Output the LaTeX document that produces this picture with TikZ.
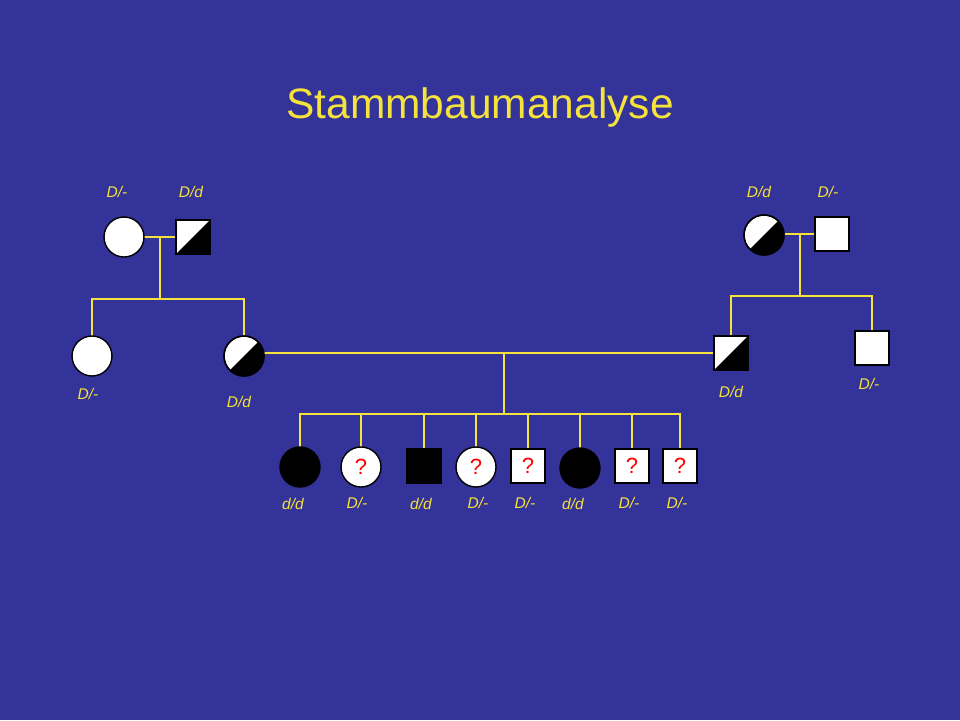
\documentclass[tikz,border=0pt]{standalone}
\usepackage{fontspec}
\setmainfont{Liberation Sans}
\begin{document}
\begin{tikzpicture}[x=1pt,y=-1pt,
  line/.style={draw=yel,line width=1.6pt},
  lbl/.style={text=yel,font=\itshape\fontsize{15.5}{15.5}\selectfont},
  q/.style={text=red,font=\fontsize{22}{22}\selectfont}]
\definecolor{bg}{HTML}{333399}
\definecolor{yel}{HTML}{F5E23A}
\fill[bg] (0,0) rectangle (960,720);
\useasboundingbox (0,0) rectangle (960,720);
\node[text=yel,font=\fontsize{42.5}{42.5}\selectfont] (title) at (480,108) {Stammbaumanalyse};
% helpers
\newcommand{\pcirc}[4]{% name x y fill
  \node[circle,draw=black,line width=1.4pt,fill=#4,minimum size=40pt,inner sep=0pt] (#1) at (#2,#3) {};}
\newcommand{\psq}[4]{\node[rectangle,draw=black,line width=1.4pt,fill=#4,minimum size=34pt,inner sep=0pt] (#1) at (#2,#3) {};}
\newcommand{\halfc}[3]{\node[circle,draw=black,line width=1.4pt,fill=white,minimum size=40pt,inner sep=0pt] (#1) at (#2,#3) {};
  \begin{scope}\clip (#2,#3) circle (20);\fill[black] (#2-30,#3+30) -- (#2+30,#3-30) -- (#2+30,#3+30) -- cycle;\end{scope}
  \draw[black,line width=1.4pt] (#2,#3) circle (20);}
\newcommand{\halfs}[3]{\node[rectangle,draw=black,line width=1.4pt,fill=white,minimum size=34pt,inner sep=0pt] (#1) at (#2,#3) {};
  \fill[black] (#2-17,#3+17) -- (#2+17,#3-17) -- (#2+17,#3+17) -- cycle;
  \draw[black,line width=1.4pt] (#2-17,#3-17) rectangle (#2+17,#3+17);}
% lines first
\coordinate (m1) at (160,237); \coordinate (s1) at (160,299);
\coordinate (m2) at (504,353); \coordinate (s2) at (504,414);
\coordinate (m3) at (800,234); \coordinate (s3) at (800,296);
\draw[line] (124,237) -- (193,237);
\draw[line] (m1) -- (s1);
\draw[line] (92,336) |- (s1) -| (244,336);
\draw[line] (244,353) -- (731,353);
\draw[line] (m2) -- (s2);
\draw[line] (300,447) |- (s2) -| (680,449);
\foreach \x in {361,424,476,528,580,632} \draw[line] (\x,414) -- (\x,449);
\draw[line] (764,234) -- (832,234);
\draw[line] (m3) -- (s3);
\draw[line] (731,336) |- (s3) -| (872,331);
% gen 1
\pcirc{a}{124}{237}{white}
\halfs{b}{193}{237}
\halfc{c}{764}{235}
\psq{d}{832}{234}{white}
% gen 2
\pcirc{e}{92}{356}{white}
\halfc{f}{244}{356}
\halfs{g}{731}{353}
\psq{h}{872}{348}{white}
% gen 3
\pcirc{k1}{300}{467}{black}
\pcirc{k2}{361}{467}{white}\node[q] at (k2) {?};
\psq{k3}{424}{466}{black}
\pcirc{k4}{476}{467}{white}\node[q] at (k4) {?};
\psq{k5}{528}{466}{white}\node[q] at (k5) {?};
\pcirc{k6}{580}{468}{black}
\psq{k7}{632}{466}{white}\node[q] at (k7) {?};
\psq{k8}{680}{466}{white}\node[q] at (k8) {?};
% labels
\node[lbl] (la) at (117,192) {D/-};
\node[lbl] (lb) at (191,192) {D/d};
\node[lbl] (lc) at (759,192) {D/d};
\node[lbl] (ld) at (828,192) {D/-};
\node[lbl] (le) at (88,394) {D/-};
\node[lbl] (lf) at (239,402) {D/d};
\node[lbl] (lg) at (731,392) {D/d};
\node[lbl] (lh) at (869,384) {D/-};
\node[lbl] at (293,504) {d/d};
\node[lbl] at (357,503) {D/-};
\node[lbl] at (421,504) {d/d};
\node[lbl] at (478,503) {D/-};
\node[lbl] at (525,503) {D/-};
\node[lbl] at (573,504) {d/d};
\node[lbl] at (629,503) {D/-};
\node[lbl] at (677,503) {D/-};
\end{tikzpicture}
\end{document}
